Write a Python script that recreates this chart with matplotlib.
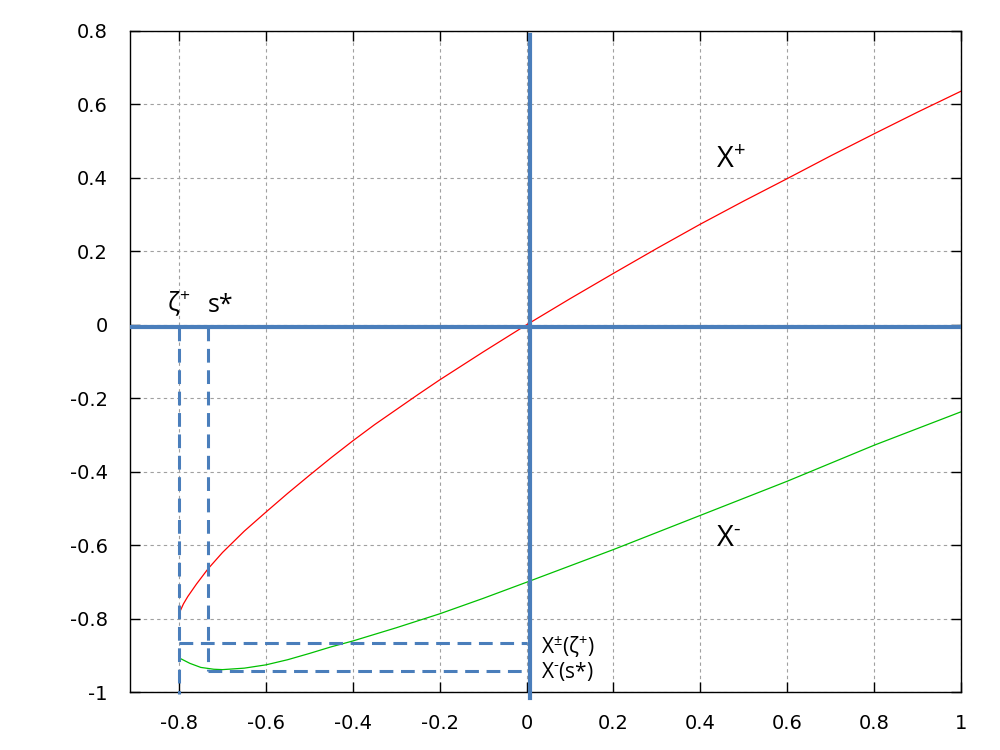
import matplotlib
matplotlib.use("Agg")
import matplotlib.pyplot as plt

# X+ branch (red)
x_plus = [-0.8, -0.79, -0.78, -0.76, -0.733, -0.7, -0.65, -0.6, -0.55, -0.5, -0.45, -0.4,
          -0.35, -0.3, -0.25, -0.2, -0.1, 0.0, 0.1, 0.2, 0.3, 0.4, 0.5, 0.6, 0.7, 0.8, 0.9, 1.0]
y_plus = [-0.786, -0.760, -0.740, -0.706, -0.664, -0.620, -0.562, -0.510, -0.459, -0.410, -0.362, -0.316,
          -0.272, -0.231, -0.190, -0.150, -0.074, 0.0, 0.071, 0.140, 0.208, 0.274, 0.337, 0.398, 0.460, 0.520, 0.579, 0.636]

# X- branch (green)
x_minus = [-0.8, -0.79, -0.775, -0.75, -0.72, -0.7, -0.65, -0.6, -0.55, -0.5, -0.45,
           -0.4, -0.3, -0.2, -0.1, 0.0, 0.2, 0.4, 0.6, 0.8, 1.0]
y_minus = [-0.907, -0.913, -0.922, -0.933, -0.938, -0.939, -0.935, -0.926, -0.912, -0.895, -0.877,
           -0.861, -0.825, -0.787, -0.745, -0.701, -0.612, -0.519, -0.426, -0.328, -0.237]

# marked points
zeta_plus = -0.8
s_star = -0.733
level_zeta = -0.866
level_s = -0.944

x_ticks = [-0.8, -0.6, -0.4, -0.2, 0, 0.2, 0.4, 0.6, 0.8, 1]
x_labels = ["-0.8", "-0.6", "-0.4", "-0.2", "0", "0.2", "0.4", "0.6", "0.8", "1"]
y_ticks = [-1, -0.8, -0.6, -0.4, -0.2, 0, 0.2, 0.4, 0.6, 0.8]
y_labels = ["-1", "-0.8", "-0.6", "-0.4", "-0.2", "0", "0.2", "0.4", "0.6", "0.8"]

blue = "#4a7ebb"
lab_font = "Open Sans"

plt.rcParams["mathtext.fontset"] = "custom"
plt.rcParams["mathtext.rm"] = lab_font
plt.rcParams["mathtext.it"] = lab_font

fig = plt.figure(figsize=(10, 7.5), dpi=100)
ax = fig.add_axes([0.13, 0.0773, 0.831, 0.8814])

ax.set_xlim(-0.913, 1.0)
ax.set_ylim(-1.0, 0.8)

# grid
ax.grid(True, color="#a0a0a0", linestyle=(0, (3, 3)), linewidth=0.8)
ax.set_axisbelow(True)

# curves
ax.plot(x_plus, y_plus, color="#ff0000", lw=0.9)
ax.plot(x_minus, y_minus, color="#00c000", lw=0.9)

# solid axes lines
ax.axhline(-0.005, xmin=0.0, xmax=0.997, color=blue, lw=3, zorder=3)
ax.plot([0.007, 0.007], [-1.015, 0.79], color=blue, lw=3, zorder=3, clip_on=False)

# dashed guide lines
dash = (0, (4.5, 2.5))
ax.plot([zeta_plus, zeta_plus], [-0.005, -1.005], color=blue, lw=2.2, ls=dash, clip_on=False, zorder=3)
ax.plot([s_star, s_star], [-0.005, level_s], color=blue, lw=2.2, ls=dash, zorder=3)
ax.plot([zeta_plus, 0.0], [level_zeta, level_zeta], color=blue, lw=2.2, ls=dash, zorder=3)
ax.plot([s_star, 0.0], [level_s, level_s], color=blue, lw=2.2, ls=dash, zorder=3)

# labels
ax.text(0.435, 0.428, "X$^{+}$", fontsize=21, family=lab_font, ha="left", va="baseline")
ax.text(0.435, -0.603, "X$^{\u2010}$", fontsize=21, family=lab_font, ha="left", va="baseline")
ax.text(-0.828, 0.036, "ζ$^{+}$", fontsize=18, family=lab_font, ha="left", va="baseline")
ax.text(-0.735, 0.036, "s*", fontsize=18, family=lab_font, ha="left", va="baseline")
ax.text(0.033, -0.962, "X$^{\u00b1}$(ζ$^{+}$)\nX$^{\u2010}$(s*)", fontsize=15, family=lab_font,
        ha="left", va="baseline", linespacing=1.0)

# ticks, gnuplot style
ax.set_xticks(x_ticks)
ax.set_xticklabels(x_labels)
ax.set_yticks(y_ticks)
ax.set_yticklabels(y_labels)
ax.tick_params(direction="in", length=7, width=1, top=True, right=True,
               labelsize=14, colors="black")
ax.tick_params(axis="x", pad=16)
ax.tick_params(axis="y", pad=16)
for sp in ax.spines.values():
    sp.set_linewidth(1)

fig.savefig("out.png", dpi=100)
